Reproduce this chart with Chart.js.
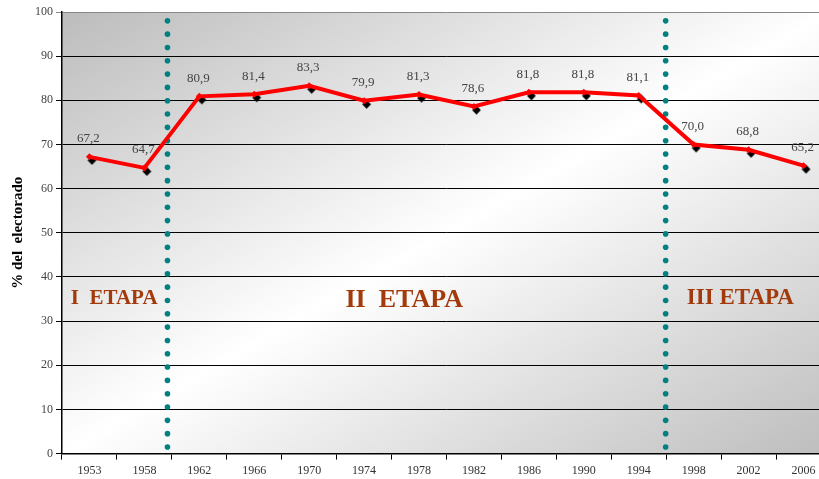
<!DOCTYPE html>
<html>
<head>
<meta charset="utf-8">
<script src="https://cdn.jsdelivr.net/npm/chart.js@4/dist/chart.umd.min.js"></script>
<style>
html,body{margin:0;padding:0;background:#fff;overflow:hidden;}
#wrap{position:absolute;left:0;top:0;width:840px;height:484px;}
</style>
</head>
<body>
<div id="wrap"><canvas id="c" width="840" height="484"></canvas></div>
<script>
const years = ['1953','1958','1962','1966','1970','1974','1978','1982','1986','1990','1994','1998','2002','2006'];
const turnout = [67.2, 64.7, 80.9, 81.4, 83.3, 79.9, 81.3, 78.6, 81.8, 81.8, 81.1, 70.0, 68.8, 65.2];
const dividerPositions = [1.42, 10.49];
const stageLabels = ['I  ETAPA', 'II  ETAPA', 'III ETAPA'];
const stageLabelX = [0.45, 5.73, 11.85];
const stageLabelY = [35.2, 34.8, 35.2];
const stageLabelSize = [21, 26, 23];

const SERIF = '"Liberation Serif", "DejaVu Serif", serif';

// offset black diamond image (shadow-like marker)
function makeDiamond() {
  const c = document.createElement('canvas');
  c.width = 20; c.height = 20;
  const g = c.getContext('2d');
  const cx = 12.5, cy = 13.5, r = 4.4;
  g.fillStyle = '#000';
  g.beginPath();
  g.moveTo(cx, cy - r); g.lineTo(cx + r, cy); g.lineTo(cx, cy + r); g.lineTo(cx - r, cy);
  g.closePath(); g.fill();
  return c;
}
const diamondImg = makeDiamond();

const bgPlugin = {
  id: 'bg',
  beforeDraw(chart) {
    const {ctx, chartArea: a} = chart;
    ctx.save();
    ctx.translate(a.left, a.top);
    ctx.scale(a.right - a.left, a.bottom - a.top);
    const g = ctx.createLinearGradient(0, 0, 1, 1);
    g.addColorStop(0, '#bcbcbc');
    g.addColorStop(0.5, '#ffffff');
    g.addColorStop(1, '#bdbdbd');
    ctx.fillStyle = g;
    ctx.fillRect(0, 0, 1, 1);
    ctx.restore();
  }
};

const overlayPlugin = {
  id: 'overlay',
  beforeDatasetsDraw(chart) {
    const {ctx, scales: {x, y}} = chart;
    ctx.save();
    // dotted dividers
    ctx.fillStyle = '#008080';
    dividerPositions.forEach(p => {
      const i0 = Math.floor(p), f = p - i0;
      const px = x.getPixelForValue(i0) + f * (x.getPixelForValue(i0 + 1) - x.getPixelForValue(i0));
      const yTop = y.getPixelForValue(98), yBot = y.getPixelForValue(1.5);
      const n = 33;
      for (let k = 0; k < n; k++) {
        const py = yTop + (yBot - yTop) * k / (n - 1);
        ctx.beginPath(); ctx.arc(px, py, 2.8, 0, Math.PI * 2); ctx.fill();
      }
    });
    // stage labels
    ctx.fillStyle = '#a33a0c';
    ctx.textAlign = 'center';
    ctx.textBaseline = 'middle';
    stageLabels.forEach((t, i) => {
      const i0 = Math.floor(stageLabelX[i]), f = stageLabelX[i] - i0;
      const px = x.getPixelForValue(i0) + f * (x.getPixelForValue(i0 + 1) - x.getPixelForValue(i0));
      ctx.font = 'bold ' + stageLabelSize[i] + 'px ' + SERIF;
      ctx.fillText(t, px, y.getPixelForValue(stageLabelY[i]));
    });
    ctx.restore();
  },
  afterDatasetsDraw(chart) {
    const {ctx} = chart;
    const meta = chart.getDatasetMeta(1);
    ctx.save();
    ctx.fillStyle = '#444';
    ctx.font = '13px ' + SERIF;
    ctx.textAlign = 'center';
    ctx.textBaseline = 'middle';
    meta.data.forEach((pt, i) => {
      ctx.fillText(turnout[i].toFixed(1).replace('.', ','), pt.x - 1, pt.y - 18);
    });
    ctx.restore();
  }
};

new Chart(document.getElementById('c'), {
  type: 'line',
  data: {
    labels: years,
    datasets: [
      {
        data: turnout,
        showLine: false,
        pointStyle: diamondImg,
        pointRadius: 5,
        order: 2
      },
      {
        data: turnout,
        borderColor: '#ff0000',
        backgroundColor: '#ff0000',
        borderWidth: 4,
        pointStyle: 'rectRot',
        pointRadius: 3.5,
        pointBorderWidth: 0,
        tension: 0,
        order: 1
      }
    ]
  },
  options: {
    responsive: false,
    animation: false,
    events: [],
    layout: {padding: {left: 4, right: 9, top: 12, bottom: 2}},
    plugins: {legend: {display: false}, tooltip: {enabled: false}},
    scales: {
      x: {
        offset: true,
        grid: {offset: true, drawOnChartArea: false, color: '#000', tickLength: 6},
        border: {color: '#000', width: 1.5},
        ticks: {color: '#333', font: {family: SERIF, size: 12}, padding: 4, maxRotation: 0, autoSkip: false}
      },
      y: {
        min: 0, max: 100,
        ticks: {stepSize: 10, color: '#444', font: {family: SERIF, size: 12}, padding: 3},
        grid: {color: ctx => ctx.tick && ctx.tick.value === 100 ? '#888' : '#000', lineWidth: 1, tickLength: 6},
        border: {color: '#000', width: 1.5},
        title: {display: true, text: '% del  electorado', color: '#000', font: {family: SERIF, size: 15, weight: 'bold'}, padding: {top: 5, bottom: 5}}
      }
    }
  },
  plugins: [bgPlugin, overlayPlugin]
});
</script>
</body>
</html>
